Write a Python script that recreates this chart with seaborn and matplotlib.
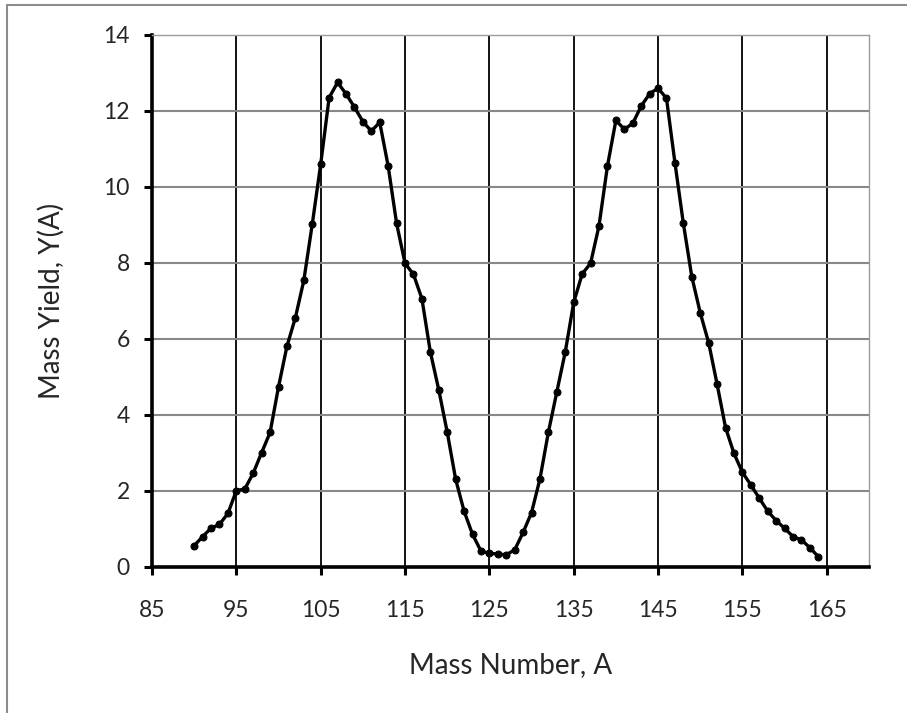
import matplotlib.pyplot as plt
import seaborn as sns
import pandas as pd

# mass number A and yield Y(A)
mass_number = list(range(90, 165))
mass_yield = [
    0.56, 0.80, 1.02, 1.12, 1.41, 2.01, 2.05, 2.47, 3.01, 3.54,   # 90-99
    4.74, 5.81, 6.56, 7.54, 9.02, 10.60, 12.35, 12.75, 12.45, 12.10,  # 100-109
    11.72, 11.47, 11.70, 10.55, 9.04, 7.99, 7.70, 7.06, 5.66, 4.66,  # 110-119
    3.55, 2.31, 1.47, 0.86, 0.42, 0.36, 0.34, 0.32, 0.45, 0.91,   # 120-129
    1.43, 2.32, 3.55, 4.61, 5.66, 6.96, 7.71, 7.99, 8.98, 10.55,  # 130-139
    11.75, 11.52, 11.67, 12.13, 12.45, 12.60, 12.33, 10.64, 9.04, 7.64,  # 140-149
    6.69, 5.90, 4.81, 3.67, 2.99, 2.49, 2.16, 1.81, 1.47, 1.22,   # 150-159
    1.02, 0.80, 0.71, 0.51, 0.27,                                  # 160-164
]
x_ticks = [85, 95, 105, 115, 125, 135, 145, 155, 165]
y_ticks = [0, 2, 4, 6, 8, 10, 12, 14]

df = pd.DataFrame({"A": mass_number, "Y": mass_yield})

sns.set_style("white")
plt.rcParams['font.family'] = ['Lato', 'DejaVu Sans']

fig = plt.figure(figsize=(9.07, 7.13), dpi=100)
ax = fig.add_axes([0.1676, 0.2048, 0.7904, 0.7462])

# outer frame of the chart (only top and left visible)
fig.add_artist(plt.Line2D([0.008, 1.0], [0.993, 0.993], color='#8c8c8c', lw=1.5, transform=fig.transFigure))
fig.add_artist(plt.Line2D([0.008, 0.008], [0.0, 0.993], color='#8c8c8c', lw=1.5, transform=fig.transFigure))

# grid lines
for v in x_ticks[1:]:
    ax.axvline(v, color='black', lw=1.3, zorder=1)
for h in y_ticks[1:-1]:
    ax.axhline(h, color='#888888', lw=1.5, zorder=1)

sns.lineplot(data=df, x="A", y="Y", ax=ax, color='black', lw=2.4,
             marker='o', markersize=5, markeredgecolor='black', zorder=3)

ax.set_xlim(85, 170)
ax.set_ylim(0, 14)
ax.set_xticks(x_ticks)
ax.set_yticks(y_ticks)
ax.tick_params(axis='both', direction='out', length=6, width=2.2, color='black',
               labelsize=16.5)
ax.tick_params(axis='x', pad=18)
ax.tick_params(axis='y', pad=10)
ax.xaxis.set_ticks_position('bottom')
ax.yaxis.set_ticks_position('left')

for side in ['left', 'bottom']:
    ax.spines[side].set_color('black')
    ax.spines[side].set_linewidth(2.6)
for side in ['top', 'right']:
    ax.spines[side].set_visible(True)
    ax.spines[side].set_color('#9a9a9a')
    ax.spines[side].set_linewidth(1.0)
    ax.spines[side].set_linestyle((0, (1, 1)))

ax.set_xlabel("Mass Number, A", fontsize=20, labelpad=22)
ax.set_ylabel("Mass Yield, Y(A)", fontsize=20, labelpad=28)

fig.savefig("out.png", dpi=100)
